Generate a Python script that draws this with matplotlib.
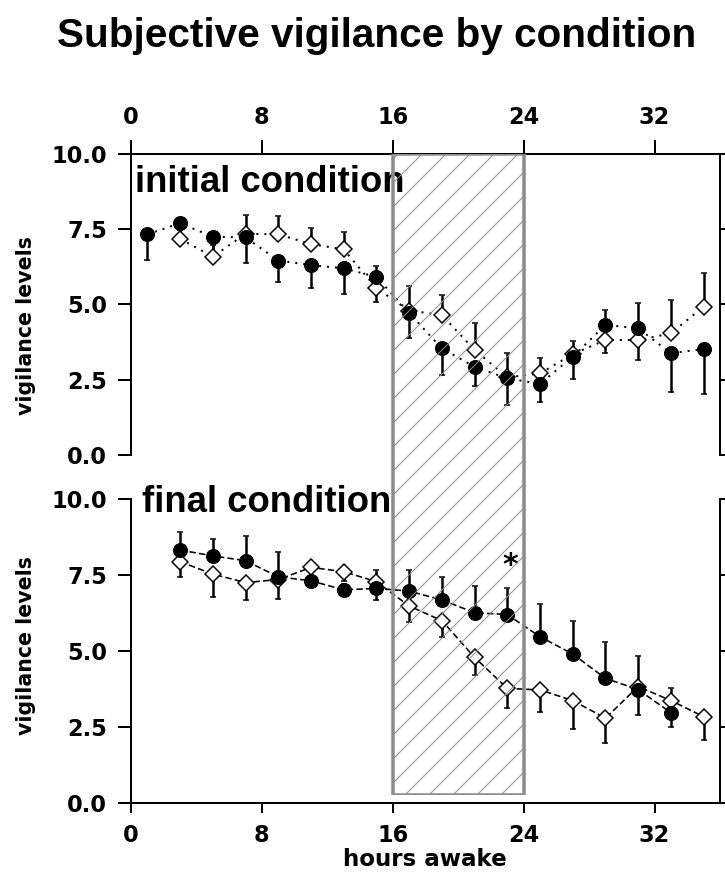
import numpy as np
import matplotlib
matplotlib.use("Agg")
import matplotlib.pyplot as plt

# ---------------- data ----------------
hour_ticks = [0, 8, 16, 24, 32]
vig_ticks = [0.0, 2.5, 5.0, 7.5, 10.0]
vig_ticklabels = ["0.0", "2.5", "5.0", "7.5", "10.0"]

# initial condition
init_hours_filled = [1, 3, 5, 7, 9, 11, 13, 15, 17, 19, 21, 23, 25, 27, 29, 31, 33, 35]
init_filled = [7.33, 7.70, 7.25, 7.23, 6.46, 6.31, 6.20, 5.92, 4.72, 3.54, 2.93, 2.55,
               2.36, 3.27, 4.32, 4.21, 3.38, 3.52]
init_filled_err = [0.85, 0.45, 0.61, 0.84, 0.72, 0.77, 0.85, 0.85, 0.83, 0.88, 0.64, 0.89,
                   0.59, 0.76, 0.93, 1.05, 1.28, 1.49]

init_hours_open = [3, 5, 7, 9, 11, 13, 15, 17, 19, 21, 23, 25, 27, 29, 31, 33, 35]
init_open = [7.18, 6.59, 7.35, 7.33, 7.01, 6.83, 5.54, 4.80, 4.65, 3.49, 2.58, 2.71,
             3.35, 3.82, 3.82, 4.04, 4.93]
init_open_err = [0.30, 0.40, 0.62, 0.61, 0.52, 0.59, 0.74, 0.80, 0.67, 0.91, 0.82, 0.50,
                 0.45, 1.00, 1.22, 1.11, 1.11]

# final condition
final_hours_filled = [3, 5, 7, 9, 11, 13, 15, 17, 19, 21, 23, 25, 27, 29, 31, 33]
final_filled = [8.32, 8.13, 7.97, 7.44, 7.31, 7.01, 7.06, 6.97, 6.68, 6.26, 6.20, 5.47,
                4.90, 4.10, 3.73, 2.97]
final_filled_err = [0.61, 0.57, 0.81, 0.82, 0.30, 0.20, 0.60, 0.69, 0.76, 0.88, 0.87, 1.08,
                    1.10, 1.18, 1.10, 0.80]

final_hours_open = [3, 5, 7, 9, 11, 13, 15, 17, 19, 21, 23, 25, 27, 29, 31, 33, 35]
final_open = [7.94, 7.53, 7.25, 7.35, 7.75, 7.61, 7.28, 6.48, 6.00, 4.79, 3.77, 3.72,
              3.37, 2.79, 3.83, 3.37, 2.84]
final_open_err = [0.50, 0.74, 0.57, 0.65, 0.41, 0.30, 0.60, 0.52, 0.55, 0.58, 0.66, 0.72,
                  0.95, 0.81, 0.94, 0.86, 0.77]

shade_start, shade_end = 16, 24
star_hour, star_value = 23.2, 7.8

# ---------------- figure ----------------
W, H = 725, 895
DPI = 72
plt.rcParams['hatch.linewidth'] = 1.0
fig = plt.figure(figsize=(W / DPI, H / DPI), dpi=DPI)
fig.patch.set_facecolor('white')

def fx(px):
    return px / W

def fy(py):
    return 1 - py / H

L, R = 131, 720
ax_top = fig.add_axes([fx(L), fy(455), (R - L) / W, (455 - 154) / H])
ax_bot = fig.add_axes([fx(L), fy(803), (R - L) / W, (803 - 499) / H])

tick_font = dict(family='DejaVu Sans', weight='bold', size=22.5)

for ax in (ax_top, ax_bot):
    ax.set_xlim(0, 36)
    ax.set_ylim(0, 10)
    ax.set_xticks(hour_ticks)
    ax.set_xticklabels([str(h) for h in hour_ticks], **tick_font)
    ax.set_yticks(vig_ticks)
    ax.set_yticklabels(vig_ticklabels, **tick_font)
    for s in ax.spines.values():
        s.set_linewidth(2)
        s.set_color('black')
    ax.tick_params(axis='y', which='both', direction='out', length=13, width=2,
                   left=True, right=True, labelleft=True, labelright=False, pad=11)

ax_top.spines['bottom'].set_visible(False)
ax_top.tick_params(axis='x', direction='out', length=14, width=2, top=True, bottom=False,
                   labeltop=True, labelbottom=False, pad=11)
ax_bot.spines['top'].set_visible(False)
ax_bot.tick_params(axis='x', direction='out', length=10, width=2, top=False, bottom=True,
                   labeltop=False, labelbottom=True, pad=11)

def draw_series(ax, hours, vals, errs, filled, ls, up):
    hours = np.asarray(hours)
    vals = np.asarray(vals)
    errs = np.asarray(errs)
    zeros = np.zeros_like(errs)
    yerr = [zeros, errs] if up else [errs, zeros]
    ax.errorbar(hours, vals, yerr=yerr, fmt='none', ecolor='black', elinewidth=2.5,
                capsize=3, capthick=1.5, zorder=2)
    ax.plot(hours, vals, color='black', lw=1.6 if ls != 'dot' else 2,
            linestyle=(0, (1, 3)) if ls == 'dot' else (0, (4, 2)), zorder=1)
    if filled:
        ax.plot(hours, vals, 'o', ms=14, mfc='black', mec='black', zorder=4, linestyle='none')
    else:
        ax.plot(hours, vals, 'D', ms=11.5, mfc='white', mec='black', mew=1.5, zorder=3,
                linestyle='none')

draw_series(ax_top, init_hours_open, init_open, init_open_err, False, 'dot', up=True)
draw_series(ax_top, init_hours_filled, init_filled, init_filled_err, True, 'dot', up=False)
draw_series(ax_bot, final_hours_open, final_open, final_open_err, False, 'dash', up=False)
draw_series(ax_bot, final_hours_filled, final_filled, final_filled_err, True, 'dash', up=True)

label_font = dict(family='Liberation Sans', weight='bold', size=36.5)
ax_top.text(0.25, 8.74, 'initial condition', ha='left', va='baseline', zorder=5, **label_font)
ax_bot.text(0.7, 9.57, 'final condition', ha='left', va='baseline', zorder=5, **label_font)

ax_bot.text(star_hour, star_value, '*', ha='center', va='center', family='DejaVu Sans',
            weight='bold', size=30, zorder=5)

# hatched wake-period block spanning both panels
ax_ov = fig.add_axes([fx(L), fy(795), (R - L) / W, (795 - 154) / H])
ax_ov.set_xlim(0, 36)
ax_ov.set_ylim(0, 1)
ax_ov.axis('off')
ax_ov.axvspan(shade_start, shade_end, facecolor='none', edgecolor='#8c8c8c', hatch='/',
              lw=3.5)

ylab_font = dict(family='DejaVu Sans', weight='bold', size=20.5)
fig.text(fx(26), fy(326), 'vigilance levels', rotation=90, ha='center', va='center', **ylab_font)
fig.text(fx(26), fy(646), 'vigilance levels', rotation=90, ha='center', va='center', **ylab_font)

fig.text(fx(425), fy(860), 'hours awake', ha='center', va='center', family='DejaVu Sans',
         weight='bold', size=23)

fig.text(fx(377), fy(47), 'Subjective vigilance by condition', ha='center', va='baseline',
         family='Liberation Sans', weight='bold', size=40.5)

fig.savefig('out.png', dpi=DPI, facecolor='white')
